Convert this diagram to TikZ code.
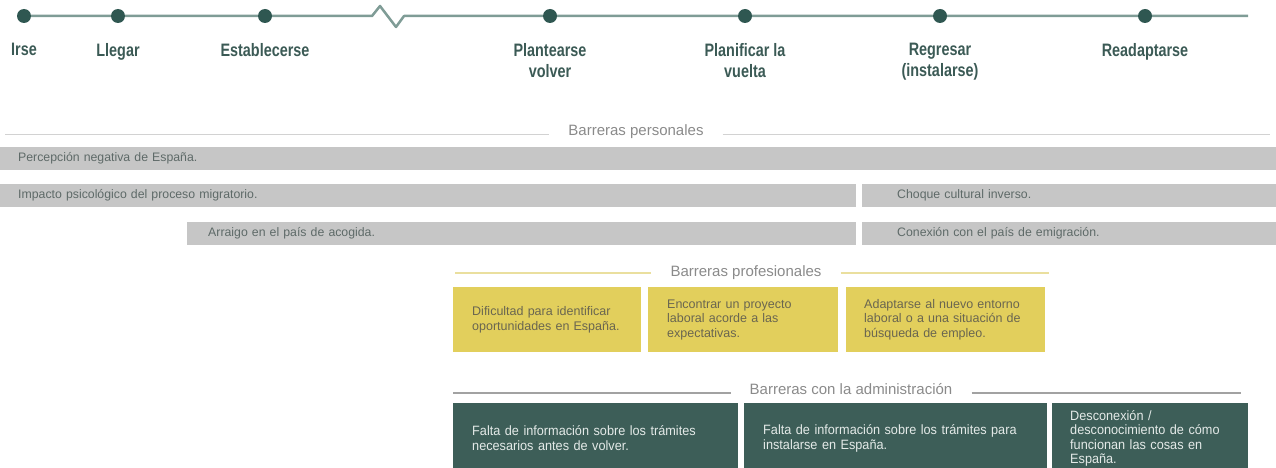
\documentclass[tikz,border=0pt]{standalone}
\usepackage{fontspec}
\setmainfont{Liberation Sans}
\newfontfamily\tlfont[FakeStretch=0.8]{Liberation Sans}
\newfontfamily\admfont[FakeStretch=0.94]{Liberation Sans}
\usetikzlibrary{positioning}
\definecolor{tlgreen}{HTML}{2F5751}
\definecolor{tlline}{HTML}{7F9C96}
\definecolor{tltext}{HTML}{3B5A55}
\definecolor{bargray}{HTML}{C6C6C6}
\definecolor{bartxt}{HTML}{5E6A68}
\definecolor{headgray}{HTML}{8A8A8A}
\definecolor{persline}{HTML}{D2D2D2}
\definecolor{profyellow}{HTML}{E2CF5C}
\definecolor{profline}{HTML}{EADF9E}
\definecolor{proftxt}{HTML}{6A6650}
\definecolor{admgreen}{HTML}{3D5E58}
\definecolor{admline}{HTML}{A2A2A2}
\definecolor{admtxt}{HTML}{E4EAE8}
\begin{document}
\begin{tikzpicture}[x=1pt, y=-1pt, node distance=20pt,
		dot/.style={circle, fill=tlgreen, minimum size=14pt, inner sep=0pt},
		tlabel/.style={font=\tlfont\bfseries\fontsize{18}{21}\selectfont, text=tltext, align=center, inner sep=0pt},
		bar/.style={fill=bargray, minimum height=23pt, inner ysep=0pt, align=left, font=\fontsize{12.3}{15}\selectfont, text=bartxt, anchor=north west},
		heading/.style={font=\fontsize{15}{18}\selectfont, text=headgray, inner ysep=0pt, inner xsep=19pt},
		profbox/.style={fill=profyellow, minimum height=65pt, inner ysep=0pt, align=left, font=\fontsize{12.5}{14.5}\selectfont, text=proftxt, anchor=north west},
		admbox/.style={fill=admgreen, minimum height=70pt, inner ysep=0pt, align=left, font=\admfont\fontsize{13.5}{14.5}\selectfont, text=admtxt, anchor=north west}]
		\useasboundingbox (0,0) rectangle (1276,468);
		% timeline
		\node (irse) [dot] at (24,16) {};
		\node (llegar) [dot] at (118,16) {};
		\node (estab) [dot] at (265,16) {};
		\node (plant) [dot] at (550,16) {};
		\node (planif) [dot] at (745,16) {};
		\node (regresar) [dot] at (940,16) {};
		\node (readapt) [dot] at (1145,16) {};
		\coordinate (zz-a) at (372,16);
		\coordinate (zz-b) at (380,6);
		\coordinate (zz-c) at (396,27);
		\coordinate (zz-d) at (404,16);
		\coordinate (tl-end) at (1248,16);
		\draw[tlline, line width=2.5pt, line join=round] (irse) -- (llegar) -- (estab) -- (zz-a) -- (zz-b) -- (zz-c) -- (zz-d) -- (plant) -- (planif) -- (regresar) -- (readapt) -- (tl-end);
		\node (irse-l) [tlabel, below=of irse] {Irse};
		\node (llegar-l) [tlabel, below=of llegar] {Llegar};
		\node (estab-l) [tlabel, below=of estab] {Establecerse};
		\node (plant-l) [tlabel, below=of plant] {Plantearse\\volver};
		\node (planif-l) [tlabel, below=of planif] {Planificar la\\vuelta};
		\node (regresar-l) [tlabel, below=of regresar] {Regresar\\(instalarse)};
		\node (readapt-l) [tlabel, below=of readapt] {Readaptarse};
		% barreras personales
		\node (pers) [heading] at (636,132) {Barreras personales};
		\coordinate (pers-a) at (5,134);
		\coordinate (pers-b) at (1270,134);
		\draw[persline, line width=1pt] (pers-a) -- (pers-a -| pers.west);
		\draw[persline, line width=1pt] (pers-b -| pers.east) -- (pers-b);
		\node (percep) [bar, text width=1240pt, inner xsep=18pt] at (0,147) {Percepción negativa de España.};
		\node (impacto) [bar, text width=820pt, inner xsep=18pt] at (0,184) {Impacto psicológico del proceso migratorio.};
		\node (choque) [bar, text width=344pt, inner xsep=35pt] at (862,184) {Choque cultural inverso.};
		\node (arraigo) [bar, text width=627pt, inner xsep=21pt] at (187,222) {Arraigo en el país de acogida.};
		\node (conexion) [bar, text width=344pt, inner xsep=35pt] at (862,222) {Conexión con el país de emigración.};
		% barreras profesionales
		\node (prof) [heading] at (746,273) {Barreras profesionales};
		\coordinate (prof-a) at (455,273);
		\coordinate (prof-b) at (1049,273);
		\draw[profline, line width=1.5pt] (prof-a) -- (prof.west);
		\draw[profline, line width=1.5pt] (prof.east) -- (prof-b);
		\node (dificultad) [profbox, text width=150pt, inner xsep=19pt] at (453,287) {Dificultad para identificar\\oportunidades en España.};
		\node (proyecto) [profbox, text width=152pt, inner xsep=19pt] at (648,287) {Encontrar un proyecto\\laboral acorde a las\\expectativas.};
		\node (entorno) [profbox, text width=163pt, inner xsep=18pt] at (846,287) {Adaptarse al nuevo entorno\\laboral o a una situación de\\búsqueda de empleo.};
		% barreras con la administracion
		\node (adm) [heading] at (851,389) {Barreras con la administración};
		\coordinate (adm-a) at (453,393);
		\coordinate (adm-b) at (1241,393);
		\draw[admline, line width=1.5pt] (adm-a) -- (adm-a -| adm.west);
		\draw[admline, line width=1.5pt] (adm-b -| adm.east) -- (adm-b);
		\node (tramites) [admbox, text width=247pt, inner xsep=19pt] at (453,403) {Falta de información sobre los trámites\\necesarios antes de volver.};
		\node (instalarse) [admbox, text width=265pt, inner xsep=19pt] at (744,403) {Falta de información sobre los trámites para\\instalarse en España.};
		\node (desconexion) [admbox, text width=160pt, inner xsep=18pt] at (1052,403) {Desconexión /\\desconocimiento de cómo\\funcionan las cosas en\\España.};
	\end{tikzpicture}
\end{document}
